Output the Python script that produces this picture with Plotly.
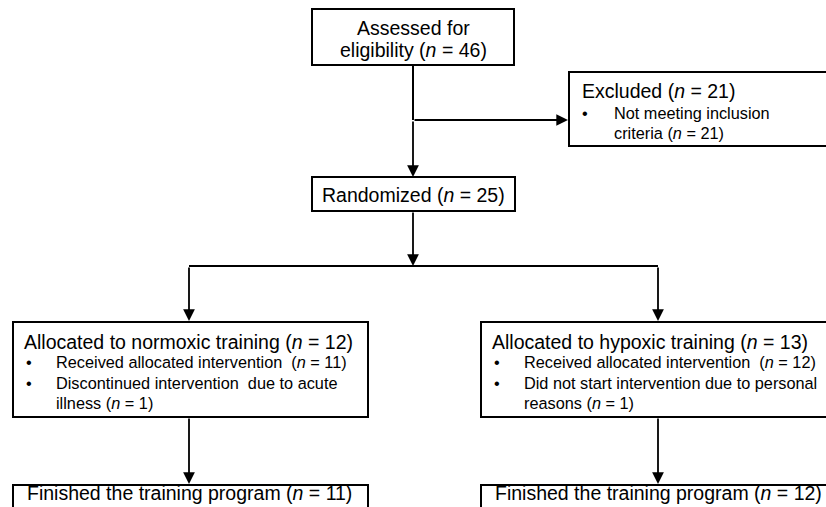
import plotly.graph_objects as go

# ---- content (data) ----
assessed_lines = ["Assessed for", "eligibility (<i>n</i> = 46)"]
excluded_title = "Excluded (<i>n</i> = 21)"
excluded_bullets = [["Not meeting inclusion", "criteria (<i>n</i> = 21)"]]
randomized_text = "Randomized (<i>n</i> = 25)"
arm_titles = ["Allocated to normoxic training (<i>n</i> = 12)",
              "Allocated to hypoxic training (<i>n</i> = 13)"]
arm_bullets = [
    [["Received allocated intervention  (<i>n</i> = 11)"],
     ["Discontinued intervention  due to acute", "illness (<i>n</i> = 1)"]],
    [["Received allocated intervention  (<i>n</i> = 12)"],
     ["Did not start intervention due to personal", "reasons (<i>n</i> = 1)"]],
]
finished_texts = ["Finished the training program (<i>n</i> = 11)",
                  "Finished the training program (<i>n</i> = 12)"]

# ---- layout geometry (pixels, y downward) ----
W, H = 826, 507
FONT = "Arial, Liberation Sans, sans-serif"
LW = 2
BIG = 19.5
SMALL = 16.3

fig = go.Figure()
shapes = []
ann = []

def box(x0, y0, x1, y1):
    shapes.append(dict(type="rect", xref="x", yref="y", x0=x0, y0=y0, x1=x1, y1=y1,
                       line=dict(color="black", width=LW), fillcolor="white"))

def line(x0, y0, x1, y1):
    shapes.append(dict(type="line", xref="x", yref="y", x0=x0, y0=y0, x1=x1, y1=y1,
                       line=dict(color="black", width=LW)))

def arrow(x0, y0, x1, y1):
    ann.append(dict(x=x1, y=y1, ax=x0, ay=y0, xref="x", yref="y", axref="x", ayref="y",
                    showarrow=True, arrowhead=2, arrowsize=1.3, arrowwidth=1.8,
                    arrowcolor="black", text=""))

def text(x, y, s, size, anchor="left"):
    ann.append(dict(x=x, y=y, xref="x", yref="y", text=s, showarrow=False,
                    xanchor=anchor, yanchor="middle",
                    font=dict(family=FONT, size=size, color="black")))

# top box
box(312, 9, 514, 65)
text(413, 28, assessed_lines[0], BIG, "center")
text(413, 50, assessed_lines[1], BIG, "center")

# trunk + exclusion branch
line(413, 65, 413, 120)
arrow(413, 120, 568, 120)
arrow(413, 120, 413, 177)

# excluded box
box(569, 72, 840, 146)
text(580, 91, excluded_title, BIG)
yy = 113
for b in excluded_bullets:
    text(580, yy, "•", SMALL)
    for ln in b:
        text(612, yy, ln, SMALL)
        yy += 20

# randomized
box(312, 177, 515, 211)
text(413, 195, randomized_text, BIG, "center")
arrow(413, 211, 413, 266)

# split
line(189, 266, 658, 266)
arm_x = [189, 658]
arm_box = [(13, 368), (481, 850)]
for i in range(2):
    cx = arm_x[i]
    bx0, bx1 = arm_box[i]
    arrow(cx, 266, cx, 321)
    box(bx0, 322, bx1, 417)
    text(bx0 + 9, 342, arm_titles[i], BIG)
    yy = 362
    for b in arm_bullets[i]:
        text(bx0 + 11, yy, "•", SMALL)
        for ln in b:
            text(bx0 + 41, yy, ln, SMALL)
            yy += 20.5
    arrow(cx, 417, cx, 484)
    box(bx0, 485, bx1, 530)
    text(bx0 + 12, 493, finished_texts[i], BIG)

fig.update_layout(
    width=W, height=H,
    margin=dict(l=0, r=0, t=0, b=0),
    paper_bgcolor="white", plot_bgcolor="white",
    xaxis=dict(range=[0, W], visible=False, fixedrange=True),
    yaxis=dict(range=[H, 0], visible=False, fixedrange=True),
    shapes=shapes, annotations=ann, showlegend=False,
)
fig.write_html("out.html", config={"displayModeBar": False},
               post_script="document.body.style.margin='0';document.body.style.overflow='hidden';")
